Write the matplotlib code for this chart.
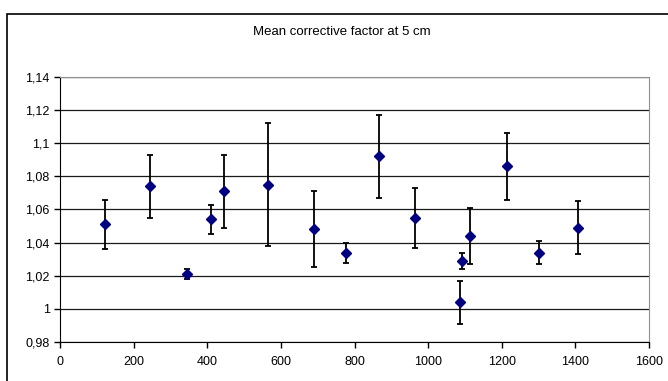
import matplotlib.pyplot as plt
from matplotlib.patches import Rectangle
from matplotlib.ticker import FuncFormatter

plt.rcParams['font.family'] = ['Liberation Sans', 'DejaVu Sans']

x = [121, 245, 345, 411, 446, 564, 689, 778, 867, 965, 1086, 1091, 1113, 1213, 1300, 1407]
y = [1.051, 1.074, 1.021, 1.054, 1.071, 1.075, 1.048, 1.034, 1.092, 1.055, 1.004, 1.029, 1.044, 1.086, 1.034, 1.049]
err_top = [1.066, 1.093, 1.024, 1.063, 1.093, 1.112, 1.071, 1.040, 1.117, 1.073, 1.017, 1.034, 1.061, 1.106, 1.041, 1.065]
err_bot = [1.036, 1.055, 1.018, 1.045, 1.049, 1.038, 1.025, 1.028, 1.067, 1.037, 0.991, 1.024, 1.027, 1.066, 1.027, 1.033]

lower = [v - b for v, b in zip(y, err_bot)]
upper = [t - v for v, t in zip(y, err_top)]

fig = plt.figure(figsize=(6.68, 3.81), dpi=100)
fig.patches.append(Rectangle((7 / 668, -0.1), 1.2, 1 - 14 / 381 + 0.1,
                             transform=fig.transFigure, fill=False,
                             edgecolor='black', linewidth=1.2))
ax = fig.add_axes([60 / 668, 1 - 342 / 381, 589 / 668, 265 / 381])

ax.errorbar(x, y, yerr=[lower, upper], fmt='D', color='#000080', markersize=5.5,
            ecolor='black', elinewidth=1.3, capsize=2.5, capthick=1.3, zorder=3)

ax.set_xlim(0, 1600)
ax.set_ylim(0.98, 1.14)
ax.set_xticks(range(0, 1601, 200))
ax.set_yticks([0.98 + 0.02 * i for i in range(9)])
ax.yaxis.set_major_formatter(FuncFormatter(lambda v, p: ('%g' % round(v, 2)).replace('.', ',')))
ax.grid(axis='y', color='#1a1a1a', linewidth=0.9)
ax.set_axisbelow(True)
ax.tick_params(length=4, width=1, colors='black')
ax.tick_params(axis='y', direction='out', labelsize=9)
ax.tick_params(axis='x', pad=6, labelsize=9)
for s in ['top', 'right']:
    ax.spines[s].set_color('#909090')
for s in ['left', 'bottom']:
    ax.spines[s].set_color('black')

fig.text(342 / 668, 1 - 32 / 381, 'Mean corrective factor at 5 cm', ha='center', va='center', fontsize=9.5)

fig.savefig('out.png', dpi=100)
